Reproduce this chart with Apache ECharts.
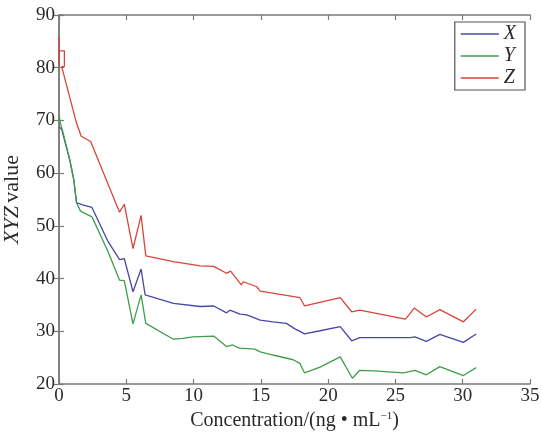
<!DOCTYPE html>
<html>
<head>
<meta charset="utf-8">
<script src="https://cdn.jsdelivr.net/npm/echarts@6/dist/echarts.min.js"></script>
<style>html,body{margin:0;padding:0;background:#fff;}#c{width:541px;height:434px;}</style>
</head>
<body>
<div id="c"></div>
<script>
// Tick settings
var xTicks = [0, 5, 10, 15, 20, 25, 30, 35];
var yTicks = [20, 30, 40, 50, 60, 70, 80, 90];

// Series X (blue)
var concX = [0, 0.2, 0.8, 1.1, 1.3, 1.75, 2.45, 3.65, 4.5, 4.85, 5.5, 6.1, 6.4, 8.5, 10.5, 11.5, 12.45, 12.7, 13.45, 13.95, 14.95, 15.9, 16.9, 17.5, 18.25, 19.4, 20.9, 21.75, 22.35, 26.1, 26.45, 27.3, 28.3, 30.05, 31.0];
var valX  = [68.8, 68.3, 62.5, 58.7, 54.4, 54.0, 53.5, 47.0, 43.6, 43.8, 37.5, 41.8, 36.9, 35.3, 34.7, 34.8, 33.5, 34.0, 33.25, 33.1, 32.1, 31.8, 31.5, 30.5, 29.5, 30.1, 30.9, 28.2, 28.8, 28.8, 28.95, 28.1, 29.4, 27.9, 29.5];

// Series Y (green)
var concY = [0, 0.1, 0.25, 0.8, 1.1, 1.3, 1.6, 2.45, 3.65, 4.5, 4.85, 5.5, 6.1, 6.45, 8.5, 9.2, 9.95, 11.5, 12.45, 12.9, 13.4, 14.55, 14.95, 15.9, 17.4, 17.9, 18.25, 19.4, 20.9, 21.8, 22.35, 23.4, 25.6, 26.45, 27.3, 28.3, 30.05, 31.0];
var valY  = [71.0, 69.5, 68.2, 62.5, 58.7, 54.4, 52.8, 51.7, 45.1, 39.7, 39.6, 31.4, 36.9, 31.5, 28.5, 28.65, 28.95, 29.1, 27.1, 27.4, 26.8, 26.6, 26.1, 25.5, 24.6, 23.9, 22.1, 23.2, 25.15, 21.1, 22.6, 22.5, 22.1, 22.6, 21.75, 23.3, 21.6, 23.1];

// Series Z (red)
var concZ = [0, 0, 0.02, 0.4, 0.4, 0.2, 1.3, 1.65, 2.35, 4.5, 4.85, 5.5, 6.1, 6.45, 8.5, 10.5, 11.5, 12.45, 12.75, 13.55, 13.7, 14.7, 14.95, 17.9, 18.25, 20.9, 21.75, 22.35, 25.75, 26.4, 27.3, 28.3, 30.05, 31.0];
var valZ  = [86.0, 80.2, 83.2, 83.2, 80.2, 80.2, 69.5, 67.0, 66.0, 52.6, 54.1, 45.7, 52.0, 44.3, 43.2, 42.4, 42.3, 41.0, 41.4, 38.8, 39.4, 38.45, 37.6, 36.4, 34.8, 36.4, 33.7, 34.0, 32.3, 34.4, 32.7, 34.1, 31.8, 34.2];

function pairs(xs, ys) { return xs.map(function (x, i) { return [x, ys[i]]; }); }

var axisColor = '#7a7a7a';
var textColor = '#2a2a2a';
var font = 'Liberation Serif';

var chart = echarts.init(document.getElementById('c'));
var baseX = {
  type: 'value', min: xTicks[0], max: xTicks[xTicks.length - 1], interval: 5,
  axisLine: { show: true, lineStyle: { color: axisColor, width: 1.5 } },
  axisTick: { show: true, inside: true, length: 5, lineStyle: { color: axisColor, width: 1.2 } },
  splitLine: { show: false }
};
var baseY = {
  type: 'value', min: yTicks[0], max: yTicks[yTicks.length - 1], interval: 10,
  axisLine: { show: true, lineStyle: { color: axisColor, width: 1.5 } },
  axisTick: { show: true, inside: true, length: 5, lineStyle: { color: axisColor, width: 1.2 } },
  splitLine: { show: false }
};

chart.setOption({
  animation: false,
  backgroundColor: '#fff',
  grid: { left: 59, right: 11, top: 15, bottom: 50, outerBoundsMode: 'none', containLabel: false },
  legend: {
    orient: 'vertical', right: 16, top: 22,
    icon: 'rect', itemWidth: 38, itemHeight: 1.6, itemGap: 2,
    borderColor: '#555', borderWidth: 1.2, padding: [2, 9, 2, 6],
    backgroundColor: '#fff',
    textStyle: { fontFamily: font, fontStyle: 'italic', fontSize: 20, lineHeight: 18, color: textColor },
    data: ['X', 'Y', 'Z']
  },
  xAxis: [
    Object.assign({}, baseX, {
      position: 'bottom',
      axisLabel: { color: textColor, fontFamily: font, fontSize: 19, margin: 3 },
      name: '{a|Concentration/(ng • mL}{s|−1}{a|)}',
      nameLocation: 'middle', nameGap: 20,
      nameTextStyle: {
        verticalAlign: 'top',
        rich: {
          a: { fontFamily: font, fontSize: 20, color: textColor, lineHeight: 20 },
          s: { fontFamily: font, fontSize: 11, color: textColor, lineHeight: 20, verticalAlign: 'top' }
        }
      }
    }),
    Object.assign({}, baseX, { position: 'top', axisLabel: { show: false } })
  ],
  yAxis: [
    Object.assign({}, baseY, {
      position: 'left',
      axisLabel: { color: textColor, fontFamily: font, fontSize: 19, margin: 4 },
      name: '{i|XYZ} {a|value}',
      nameLocation: 'middle', nameGap: 36, nameRotate: 90,
      nameTextStyle: {
        rich: {
          i: { fontFamily: font, fontSize: 22, fontStyle: 'italic', color: textColor },
          a: { fontFamily: font, fontSize: 22, color: textColor }
        }
      }
    }),
    Object.assign({}, baseY, { position: 'right', axisLabel: { show: false } })
  ],
  series: [
    { name: 'X', type: 'line', symbol: 'none', data: pairs(concX, valX),
      lineStyle: { color: '#4a47a8', width: 1.3 }, itemStyle: { color: '#4a47a8' } },
    { name: 'Y', type: 'line', symbol: 'none', data: pairs(concY, valY),
      lineStyle: { color: '#3f9e4c', width: 1.3 }, itemStyle: { color: '#3f9e4c' } },
    { name: 'Z', type: 'line', symbol: 'none', data: pairs(concZ, valZ),
      lineStyle: { color: '#d9443b', width: 1.3 }, itemStyle: { color: '#d9443b' } }
  ]
});
</script>
</body>
</html>
